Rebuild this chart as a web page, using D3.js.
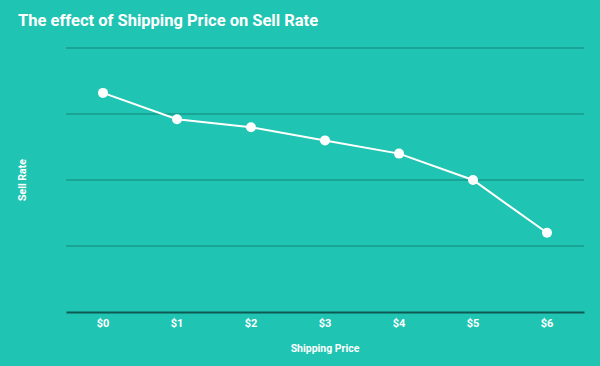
<!DOCTYPE html>
<html><head><meta charset="utf-8">
<script src="https://cdn.jsdelivr.net/npm/d3@7"></script>
<style>body{margin:0;background:#20c4b2;}svg{display:block;font-family:Roboto,sans-serif;}</style>
</head><body><svg id="c" width="600" height="366"></svg>
<script>
const categories = ["$0","$1","$2","$3","$4","$5","$6"];
const sellRate = [83, 73, 70, 65, 60, 50, 30];
const yTicks = [0, 25, 50, 75, 100];

const svg = d3.select("#c");
const W = 600, H = 366;
const m = {l:66, r:16, t:48, b:54};
svg.append("rect").attr("width",W).attr("height",H).attr("fill","#20c4b2");

const x = d3.scaleBand().domain(categories).range([m.l, W-m.r]);
const y = d3.scaleLinear().domain([0,100]).range([H-m.b, m.t]);

svg.append("g").selectAll("line").data(yTicks.filter(d=>d>0)).join("line")
  .attr("x1",m.l).attr("x2",W-m.r)
  .attr("y1",d=>y(d)).attr("y2",d=>y(d))
  .attr("stroke","#179a8c").attr("stroke-width",1.3);

const xa = svg.append("g").attr("transform",`translate(0,${y(0)})`)
  .call(d3.axisBottom(x).tickSize(0).tickPadding(7));
xa.select(".domain").attr("stroke","#0d5a52").attr("stroke-width",2);
xa.selectAll("text").attr("fill","#fff").attr("font-size",11).attr("font-weight",700).attr("font-family","Roboto");

const line = d3.line().x((d,i)=>x(categories[i])+x.bandwidth()/2).y(d=>y(d));
svg.append("path").datum(sellRate).attr("d",line).attr("fill","none").attr("stroke","#fff").attr("stroke-width",2);
svg.append("g").selectAll("circle").data(sellRate).join("circle")
  .attr("cx",(d,i)=>x(categories[i])+x.bandwidth()/2).attr("cy",d=>y(d)).attr("r",5).attr("fill","#fff");

svg.append("text").attr("x",18).attr("y",26).attr("fill","#fff").attr("font-size",16.5).attr("font-weight",700)
  .text("The effect of Shipping Price on Sell Rate");
svg.append("text").attr("x",(m.l+W-m.r)/2).attr("y",352).attr("text-anchor","middle").attr("fill","#fff")
  .attr("font-size",10.5).attr("font-weight",700).text("Shipping Price");
svg.append("text").attr("transform",`translate(26,${(m.t+H-m.b)/2}) rotate(-90)`).attr("text-anchor","middle")
  .attr("fill","#fff").attr("font-size",10.5).attr("font-weight",700).text("Sell Rate");
</script></body></html>
